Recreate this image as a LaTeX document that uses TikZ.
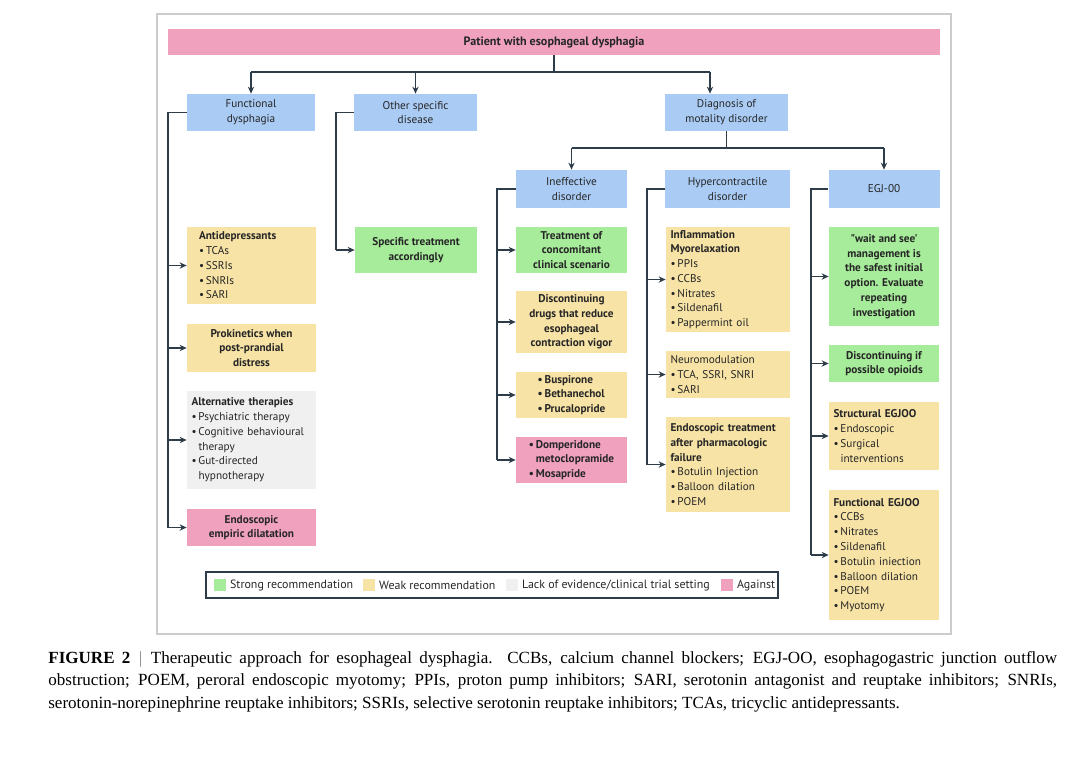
\documentclass[tikz,border=0pt]{standalone}
\usepackage{fontspec}
\setmainfont{Liberation Serif}
\newfontfamily\boxfont{PT Sans}
\usetikzlibrary{arrows.meta}
\definecolor{cpink}{HTML}{EFA1BE}
\definecolor{cblue}{HTML}{A9CBF4}
\definecolor{cgreen}{HTML}{A7EC9B}
\definecolor{cyellow}{HTML}{F7E3A6}
\definecolor{cgrey}{HTML}{F0F0F0}
\definecolor{cline}{HTML}{2E3B48}
\tikzset{
  box/.style={inner sep=2pt, font=\boxfont\fontsize{6.4}{8.4}\selectfont, text=black!85},
  ln/.style={draw=cline, line width=0.75pt},
  arr/.style={ln, -{Stealth[length=4pt,width=3.6pt]}},
}
\begin{document}
\begin{tikzpicture}[x=0.02cm, y=-0.02cm]
  \useasboundingbox (0,0) rectangle (1070,769);
  \draw[black!20, line width=0.6pt] (157,14) rectangle (951,634);
  % top level
  \node[box, fill=cpink, minimum width=15.44cm, minimum height=0.52cm, font=\boxfont\bfseries\fontsize{6.9}{8}\selectfont] (top) at (554,42) {Patient with esophageal dysphagia};
  \node[box, fill=cblue, minimum width=2.56cm, minimum height=0.74cm, align=center] (fd) at (251,112.5) {Functional\\dysphagia};
  \node[box, fill=cblue, minimum width=2.46cm, minimum height=0.74cm, align=center] (os) at (415.5,112.5) {Other specific\\disease};
  \node[box, fill=cblue, minimum width=2.46cm, minimum height=0.74cm, align=center] (dm) at (726.5,112.5) {Diagnosis of\\motality disorder};
  \node[box, fill=cblue, minimum width=2.22cm, minimum height=0.76cm, align=center] (id) at (571.5,189) {Ineffective\\disorder};
  \node[box, fill=cblue, minimum width=2.5cm, minimum height=0.76cm, align=center] (hc) at (727.5,189) {Hypercontractile\\disorder};
  \node[box, fill=cblue, minimum width=2.22cm, minimum height=0.76cm, align=center] (eg) at (884,189) {EGJ-00};
  % functional dysphagia
  \node[box, fill=cyellow, minimum width=2.58cm, minimum height=1.54cm, text width=2.1cm, align=left] (ad) at (251.5,265.5) {\textbf{Antidepressants}\\\textbullet\,TCAs\\\textbullet\,SSRIs\\\textbullet\,SNRIs\\\textbullet\,SARI};
  \node[box, fill=cyellow, minimum width=2.58cm, minimum height=0.96cm, align=center, font=\boxfont\bfseries\fontsize{6.4}{8.4}\selectfont] (pk) at (251.5,348) {Prokinetics when\\post-prandial\\distress};
  \node[box, fill=cgrey, minimum width=2.58cm, minimum height=1.96cm, text width=2.4cm, align=left] (at) at (251.5,440) {\textbf{Alternative therapies}\\\textbullet\,Psychiatric therapy\\\textbullet\,Cognitive behavioural\\\hspace*{4pt}therapy\\\textbullet\,Gut-directed\\\hspace*{4pt}hypnotherapy};
  \node[box, fill=cpink, minimum width=2.58cm, minimum height=0.74cm, align=center, font=\boxfont\bfseries\fontsize{6.4}{8.4}\selectfont] (ed) at (251.5,527.5) {Endoscopic\\empiric dilatation};
  % other specific disease
  \node[box, fill=cgreen, minimum width=2.44cm, minimum height=0.92cm, align=center, font=\boxfont\bfseries\fontsize{6.4}{8.4}\selectfont] (st) at (416,250) {Specific treatment\\accordingly};
  % ineffective
  \node[box, fill=cgreen, minimum width=2.22cm, minimum height=0.92cm, align=center, font=\boxfont\bfseries\fontsize{6.4}{8.4}\selectfont] (tc) at (571.5,250) {Treatment of\\concomitant\\clinical scenario};
  \node[box, fill=cyellow, minimum width=2.22cm, minimum height=1.2cm, align=center, font=\boxfont\bfseries\fontsize{6.4}{8.4}\selectfont] (dc) at (571.5,322) {Discontinuing\\drugs that reduce\\esophageal\\contraction vigor};
  \node[box, fill=cyellow, minimum width=2.22cm, minimum height=0.92cm, align=left, font=\boxfont\bfseries\fontsize{6.4}{8.4}\selectfont] (bu) at (571.5,395) {\textbullet\,Buspirone\\\textbullet\,Bethanechol\\\textbullet\,Prucalopride};
  \node[box, fill=cpink, minimum width=2.22cm, minimum height=0.92cm, align=left, font=\boxfont\bfseries\fontsize{6.4}{8.4}\selectfont] (dp) at (571.5,460) {\textbullet\,Domperidone\\\hspace*{4pt}metoclopramide\\\textbullet\,Mosapride};
  % hypercontractile
  \node[box, fill=cyellow, minimum width=2.48cm, minimum height=2.1cm, text width=2.3cm, align=left] (im) at (728,279.5) {\textbf{Inflammation}\\\textbf{Myorelaxation}\\\textbullet\,PPIs\\\textbullet\,CCBs\\\textbullet\,Nitrates\\\textbullet\,Sildenafil\\\textbullet\,Pappermint oil};
  \node[box, fill=cyellow, minimum width=2.48cm, minimum height=0.94cm, text width=2.3cm, align=left] (nm) at (728,374.5) {Neuromodulation\\\textbullet\,TCA, SSRI, SNRI\\\textbullet\,SARI};
  \node[box, fill=cyellow, minimum width=2.48cm, minimum height=1.9cm, text width=2.3cm, align=left] (et) at (728,464.5) {\textbf{Endoscopic treatment}\\\textbf{after pharmacologic}\\\textbf{failure}\\\textbullet\,Botulin Injection\\\textbullet\,Balloon dilation\\\textbullet\,POEM};
  % EGJ-00
  \node[box, fill=cgreen, minimum width=2.2cm, minimum height=1.98cm, align=center, font=\boxfont\bfseries\fontsize{6.4}{8.4}\selectfont] (ws) at (884,276.5) {"wait and see'\\management is\\the safest initial\\option. Evaluate\\repeating\\investigation};
  \node[box, fill=cgreen, minimum width=2.2cm, minimum height=0.74cm, align=center, font=\boxfont\bfseries\fontsize{6.4}{8.4}\selectfont] (do) at (884,363.5) {Discontinuing if\\possible opioids};
  \node[box, fill=cyellow, minimum width=2.2cm, minimum height=1.36cm, text width=2.02cm, align=left] (se) at (884,436) {\textbf{Structural EGJOO}\\\textbullet\,Endoscopic\\\textbullet\,Surgical\\\hspace*{4pt}interventions};
  \node[box, fill=cyellow, minimum width=2.2cm, minimum height=2.6cm, text width=2.02cm, align=left] (fe) at (884,555) {\textbf{Functional EGJOO}\\\textbullet\,CCBs\\\textbullet\,Nitrates\\\textbullet\,Sildenafil\\\textbullet\,Botulin iniection\\\textbullet\,Balloon dilation\\\textbullet\,POEM\\\textbullet\,Myotomy};
  % branches
  \coordinate (j1) at (0,72);
  \coordinate (j2) at (0,148);
  \draw[ln] (top.south) -- (top.south |- j1);
  \draw[ln] (fd.north |- j1) -- ([xshift=-0.33cm]dm.north |- j1);
  \foreach \n in {fd,os} \draw[arr] (\n.north |- j1) -- (\n.north);
  \draw[arr] ([xshift=-0.33cm]dm.north |- j1) -- ([xshift=-0.33cm]dm.north);
  \draw[ln] (dm.south) -- (dm.south |- j2);
  \draw[ln] (id.north |- j2) -- (eg.north |- j2);
  \foreach \n in {id,eg} \draw[arr] (\n.north |- j2) -- (\n.north);
  % brackets
  \coordinate (fdl) at (168,0);
  \coordinate (osl) at (336,0);
  \coordinate (idl) at (497,0);
  \coordinate (hcl) at (647,0);
  \coordinate (egl) at (811,0);
  \draw[ln] (fd.west) -| (fdl |- ed.west);
  \foreach \n in {ad,pk,at,ed} \draw[arr] (fdl |- \n.west) -- (\n.west);
  \draw[ln] (os.west) -| (osl |- st.west);
  \draw[arr] (osl |- st.west) -- (st.west);
  \draw[ln] (id.west) -| (idl |- dp.west);
  \foreach \n in {tc,dc,bu,dp} \draw[arr] (idl |- \n.west) -- (\n.west);
  \draw[ln] (hc.west) -| (hcl |- et.west);
  \foreach \n in {im,nm,et} \draw[arr] (hcl |- \n.west) -- (\n.west);
  \draw[ln] (eg.west) -| (egl |- fe.west);
  \foreach \n in {ws,do,se,fe} \draw[arr] (egl |- \n.west) -- (\n.west);
  % legend
  \draw[cline, line width=0.7pt] (206,572) rectangle (778,598);
  \tikzset{lgt/.style={box, anchor=west, inner sep=1pt, font=\boxfont\fontsize{6.8}{8}\selectfont}}
  \node[fill=cgreen, minimum size=0.23cm, inner sep=0pt] (lg1) at (220,585) {};
  \node[lgt] (lt1) at (228,585) {Strong recommendation};
  \node[fill=cyellow, minimum size=0.23cm, inner sep=0pt] (lg2) at (369,585) {};
  \node[lgt] (lt2) at (377,585) {Weak recommendation};
  \node[fill=cgrey, minimum size=0.23cm, inner sep=0pt] (lg3) at (512,585) {};
  \node[lgt] (lt3) at (520,585) {Lack of evidence/clinical trial setting};
  \node[fill=cpink, minimum size=0.23cm, inner sep=0pt] (lg4) at (727,585) {};
  \node[lgt] (lt4) at (735,585) {Against};
  % caption
  \node[anchor=north west, inner sep=0pt, text width=20.18cm, align=justify, font=\fontsize{9.7}{12.8}\selectfont] (cap) at (48,651) {\textbf{FIGURE 2}\enspace{\color{black!50}|}\enspace Therapeutic approach for esophageal dysphagia. CCBs, calcium channel blockers; EGJ-OO, esophagogastric junction outflow\linebreak obstruction; POEM, peroral endoscopic myotomy; PPIs, proton pump inhibitors; SARI, serotonin antagonist and reuptake inhibitors; SNRIs,\linebreak serotonin-norepinephrine reuptake inhibitors; SSRIs, selective serotonin reuptake inhibitors; TCAs, tricyclic antidepressants.};
\end{tikzpicture}
\end{document}
